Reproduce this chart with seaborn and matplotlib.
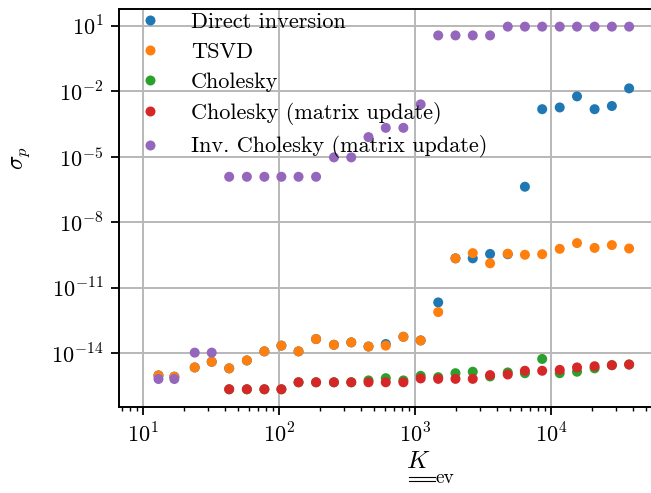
import numpy as np
import pandas as pd
import matplotlib
matplotlib.use("Agg")
import matplotlib.pyplot as plt
import seaborn as sns
from matplotlib.lines import Line2D
from matplotlib.ticker import FixedLocator, LogLocator, NullLocator, NullFormatter

nan = np.nan

K_ev = [13, 17, 24, 32, 43, 58, 78, 104, 139, 187, 253, 339, 454, 608, 819,
        1097, 1476, 1977, 2648, 3550, 4787, 6400, 8570, 11530, 15450, 20800,
        27860, 37300]

direct_inversion = [9.5e-16, 8.3e-16, 2.2e-15, 4.0e-15, 2.0e-15, 4.6e-15, 1.2e-14,
                    2.2e-14, 1.2e-14, 4.4e-14, 2.4e-14, 3.1e-14, 2.0e-14, 2.6e-14,
                    5.6e-14, 3.8e-14, 2.1e-12, 2.2e-10, 2.2e-10, 3.5e-10, 3.4e-10,
                    4.2e-7, 1.5e-3, 1.8e-3, 5.8e-3, 1.5e-3, 2.1e-3, 1.35e-2]

tsvd = [9.5e-16, 8.3e-16, 2.2e-15, 4.0e-15, 2.0e-15, 4.6e-15, 1.2e-14, 2.2e-14,
        1.2e-14, 4.4e-14, 2.4e-14, 3.1e-14, 2.0e-14, 2.2e-14, 5.6e-14, 3.8e-14,
        7.6e-13, 2.2e-10, 3.8e-10, 1.3e-10, 3.6e-10, 3.2e-10, 3.4e-10, 6.0e-10,
        1.1e-9, 6.6e-10, 8.9e-10, 6.2e-10]

cholesky = [nan, nan, nan, nan, 2.2e-16, 2.2e-16, 2.2e-16, 2.2e-16, 4.6e-16,
            4.6e-16, 4.6e-16, 4.6e-16, 5.6e-16, 7.1e-16, 5.6e-16, 9.1e-16,
            7.9e-16, 1.2e-15, 1.4e-15, 8.5e-16, 1.3e-15, 1.2e-15, 5.4e-15,
            1.2e-15, 1.4e-15, 2.0e-15, 2.8e-15, 3.0e-15]

cholesky_update = [nan, nan, nan, nan, 2.2e-16, 2.2e-16, 2.2e-16, 2.2e-16, 4.6e-16,
                   4.6e-16, 4.6e-16, 4.6e-16, 4.6e-16, 4.6e-16, 4.6e-16, 6.9e-16,
                   6.6e-16, 6.6e-16, 6.6e-16, 9.8e-16, 1.05e-15, 1.55e-15, 1.55e-15,
                   1.7e-15, 2.2e-15, 2.5e-15, 2.8e-15, 3.0e-15]

inv_cholesky_update = [6.5e-16, 6.5e-16, 1.05e-14, 1.05e-14, 1.2e-6, 1.2e-6, 1.2e-6,
                       1.2e-6, 1.2e-6, 1.2e-6, 9.3e-6, 9.3e-6, 7.9e-5, 2.1e-4, 2.1e-4,
                       2.5e-3, 3.6, 3.6, 3.6, 3.6, 9.1, 9.1, 9.1, 9.1, 9.1, 9.1, 9.1, 9.1]

methods = ["Direct inversion", "TSVD", "Cholesky", "Cholesky (matrix update)",
           "Inv. Cholesky (matrix update)"]
series = [direct_inversion, tsvd, cholesky, cholesky_update, inv_cholesky_update]

y_ticks = [1e1, 1e-2, 1e-5, 1e-8, 1e-11, 1e-14]
y_tick_labels = [r"$10^{1}$", r"$10^{-2}$", r"$10^{-5}$", r"$10^{-8}$",
                 r"$10^{-11}$", r"$10^{-14}$"]
x_ticks = [1e1, 1e2, 1e3, 1e4]
x_tick_labels = [r"$10^{1}$", r"$10^{2}$", r"$10^{3}$", r"$10^{4}$"]

df = pd.concat([pd.DataFrame({"K": K_ev, "sigma": vals, "method": name})
                for name, vals in zip(methods, series)], ignore_index=True)
df = df.dropna()

plt.rcParams["mathtext.fontset"] = "cm"
plt.rcParams["font.family"] = ["cmr10", "DejaVu Serif"]
plt.rcParams["axes.formatter.use_mathtext"] = True
plt.rcParams["axes.unicode_minus"] = True

FS = 16
fig = plt.figure(figsize=(6.51, 4.93), dpi=100)
W, H = 651, 493
ax_left, ax_right, ax_top, ax_bot = 119, 667, 8.5, 407
ax = fig.add_axes([ax_left / W, (H - ax_bot) / H, (ax_right - ax_left) / W,
                   (ax_bot - ax_top) / H])

palette = sns.color_palette("tab10", 5)
sns.scatterplot(data=df, x="K", y="sigma", hue="method", hue_order=methods,
                palette=palette, s=52, linewidth=0, ax=ax, zorder=3, legend=False)

ax.set_xscale("log")
ax.set_yscale("log")
ax.set_xlim(10 ** 0.824, 10 ** 4.85)
ax.set_ylim(10 ** -16.47, 10 ** 1.79)

ax.yaxis.set_major_locator(FixedLocator(y_ticks))
ax.set_yticklabels(y_tick_labels)
ax.yaxis.set_minor_locator(NullLocator())
ax.xaxis.set_major_locator(FixedLocator(x_ticks))
ax.set_xticklabels(x_tick_labels)
ax.xaxis.set_minor_locator(LogLocator(base=10, subs=np.arange(2, 10), numticks=100))
ax.xaxis.set_minor_formatter(NullFormatter())

ax.grid(True, which="major", color="#b8b8b8", linewidth=1.4, zorder=0)
ax.set_axisbelow(True)
for sp in ax.spines.values():
    sp.set_linewidth(1.4)
    sp.set_color("black")
ax.tick_params(axis="both", which="major", direction="out", length=6, width=1.3,
               labelsize=FS, pad=5, color="black")
ax.tick_params(axis="x", which="minor", direction="out", length=3, width=1.0)

# legend
handles = [Line2D([], [], marker="o", linestyle="", markersize=7.2,
                  markerfacecolor=c, markeredgewidth=0, color=c) for c in palette]
ax.legend(handles, methods, loc="upper left", frameon=False,
          prop={"family": "cmr10", "size": FS}, bbox_to_anchor=(0.004, 1.008),
          borderaxespad=0.0, borderpad=0.3, labelspacing=0.47,
          handletextpad=0.85, handlelength=2.0)

# axis labels
ax.set_ylabel(r"$\sigma_p$", fontsize=FS + 1)
ax.yaxis.set_label_coords(-0.159, 0.625)
ax.set_xlabel(r"$K$", fontsize=FS + 2)
ax.xaxis.set_label_coords((418 - ax_left) / (ax_right - ax_left), -0.11)
fig.text(436 / W, 1 - 483 / H, "ev", fontsize=FS - 2, family="cmr10",
         ha="left", va="baseline")
for yy in (477, 481):
    fig.add_artist(Line2D([409 / W, 435 / W], [1 - yy / H, 1 - yy / H],
                          color="black", linewidth=0.8, transform=fig.transFigure))

fig.savefig("out.png", dpi=100)
